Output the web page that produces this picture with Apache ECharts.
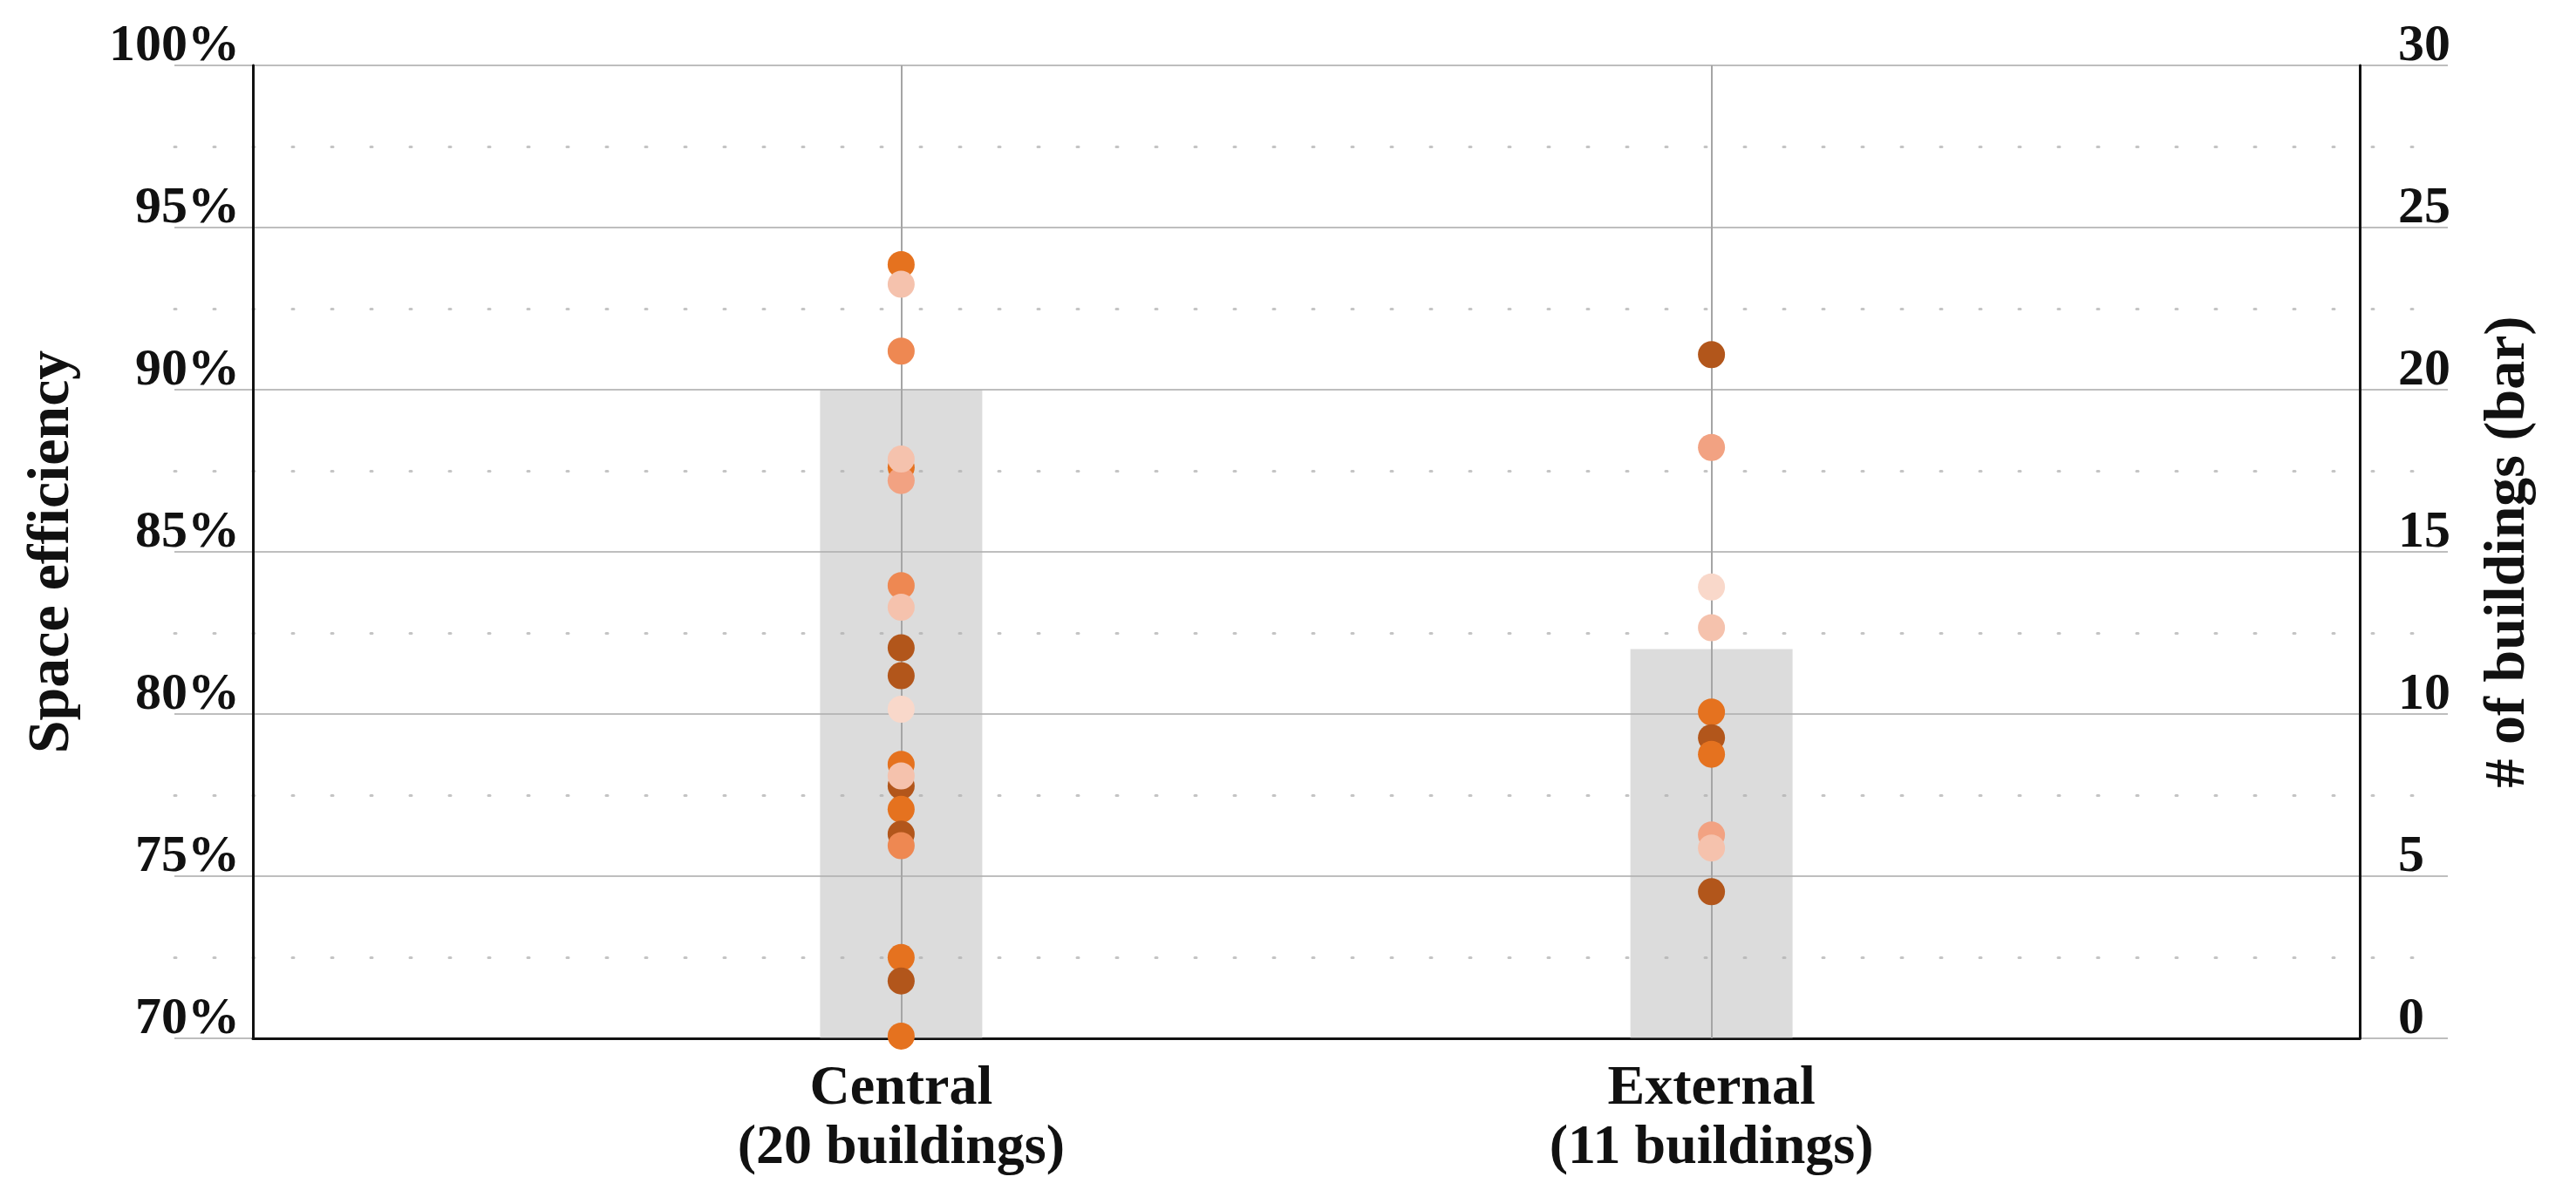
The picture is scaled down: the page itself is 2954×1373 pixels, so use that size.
<!DOCTYPE html>
<html>
<head>
<meta charset="utf-8">
<script src="https://cdn.jsdelivr.net/npm/echarts@6/dist/echarts.min.js"></script>
<style>
html,body{margin:0;padding:0;background:#ffffff;}
#chart{width:2954px;height:1373px;}
</style>
</head>
<body>
<div id="chart"></div>
<script>
// ---- data ----
const categories = ['Central', 'External'];
const buildingCounts = [20, 11];
const barCounts = [20, 12];            // # of buildings (bar), right axis
const leftTicks = [70, 75, 80, 85, 90, 95, 100];
const rightTicks = [0, 5, 10, 15, 20, 25, 30];
// space efficiency (%) of each building
const centralEff = [93.86, 93.25, 91.19, 87.6, 87.2, 87.86, 83.96, 83.29, 82.04, 81.18, 80.15,
                    78.45, 77.78, 78.09, 77.06, 76.3, 75.94, 72.49, 71.77, 70.07];
const externalEff = [91.08, 88.22, 83.92, 82.66, 80.06, 79.27, 78.76, 76.27, 75.87, 74.52];
// shade group of each building (0 = darkest ... 5 = lightest)
const centralShade = [1, 4, 2, 1, 3, 4, 2, 4, 0, 0, 5, 1, 0, 4, 1, 0, 2, 1, 0, 1];
const externalShade = [0, 3, 5, 4, 1, 0, 1, 3, 4, 0];

// ---- styles ----
const shadePalette = ['#B2561B', '#E5721F', '#EE8852', '#F2A282', '#F5C2AD', '#F9D8CA'];
const FONT = '"Liberation Serif", "DejaVu Serif", serif';

function pts(vals, shades, catIdx) {
  return vals.map((v, i) => ({ value: [catIdx + 1, v], itemStyle: { color: shadePalette[shades[i]] } }));
}
const scatterData = pts(centralEff, centralShade, 0).concat(pts(externalEff, externalShade, 1));
const barData = barCounts.map((c, i) => [i + 1, c]);

const chart = echarts.init(document.getElementById('chart'), null, { renderer: 'canvas' });
chart.setOption({
  backgroundColor: '#ffffff',
  animation: false,
  grid: [
    { left: 200, right: 147, top: 75, bottom: 182 },
    { left: 290, right: 248, top: 75, bottom: 182 }
  ],
  xAxis: [
    { gridIndex: 0, type: 'value', min: 0, max: 1, show: false },
    {
      gridIndex: 1, type: 'value', min: 0.2, max: 2.8,
      axisLine: { show: true, lineStyle: { color: '#111', width: 3 } },
      axisTick: { show: false },
      splitLine: { show: false },
      axisLabel: {
        customValues: [1, 2],
        formatter: v => {
          const i = Math.round(v) - 1;
          return categories[i] + '\n(' + buildingCounts[i] + ' buildings)';
        },
        fontFamily: FONT, fontWeight: 'bold', fontSize: 64, lineHeight: 68,
        color: '#111', margin: 24
      }
    }
  ],
  yAxis: [
    {
      gridIndex: 0, type: 'value', min: 70, max: 100, interval: 5,
      axisLine: { show: false }, axisTick: { show: false }, axisLabel: { show: false },
      splitLine: { show: true, lineStyle: { color: '#BEBEBE', width: 2 } },
      minorTick: { show: false, splitNumber: 2 },
      minorSplitLine: { show: true, lineStyle: { color: '#C4C4C4', width: 3, type: [2, 43], cap: 'round' } }
    },
    {
      gridIndex: 1, type: 'value', min: leftTicks[0], max: leftTicks[leftTicks.length - 1], interval: 5,
      position: 'left',
      name: 'Space efficiency', nameLocation: 'middle', nameGap: 196, nameRotate: 90,
      nameTextStyle: { fontFamily: FONT, fontWeight: 'bold', fontSize: 68, color: '#111' },
      axisLine: { show: true, lineStyle: { color: '#111', width: 3 } },
      axisTick: { show: false }, splitLine: { show: false },
      axisLabel: {
        formatter: '{value}%', fontFamily: FONT, fontWeight: 'bold', fontSize: 60,
        color: '#111', margin: 15, verticalAlign: 'bottom', lineHeight: 44
      }
    },
    {
      gridIndex: 1, type: 'value', min: rightTicks[0], max: rightTicks[rightTicks.length - 1], interval: 5,
      position: 'right',
      name: '# of buildings (bar)', nameLocation: 'middle', nameGap: 138, nameRotate: 90,
      nameTextStyle: { fontFamily: FONT, fontWeight: 'bold', fontSize: 66, color: '#111' },
      axisLine: { show: true, lineStyle: { color: '#111', width: 3 } },
      axisTick: { show: false }, splitLine: { show: false },
      axisLabel: {
        fontFamily: FONT, fontWeight: 'bold', fontSize: 60,
        color: '#111', margin: 44, verticalAlign: 'bottom', lineHeight: 44
      }
    }
  ],
  series: [
    {
      type: 'bar', xAxisIndex: 1, yAxisIndex: 2, data: barData, barWidth: 186,
      itemStyle: { color: 'rgba(178,178,178,0.45)' },
      markLine: {
        silent: true, symbol: 'none', label: { show: false },
        lineStyle: { color: '#A5A5A5', width: 2, type: 'solid' },
        data: categories.map((c, i) => ({ xAxis: i + 1 }))
      },
      z: 2
    },
    {
      type: 'scatter', xAxisIndex: 1, yAxisIndex: 1, data: scatterData,
      symbol: 'circle', symbolSize: 31, itemStyle: { opacity: 1 }, z: 5
    }
  ]
});
</script>
</body>
</html>
